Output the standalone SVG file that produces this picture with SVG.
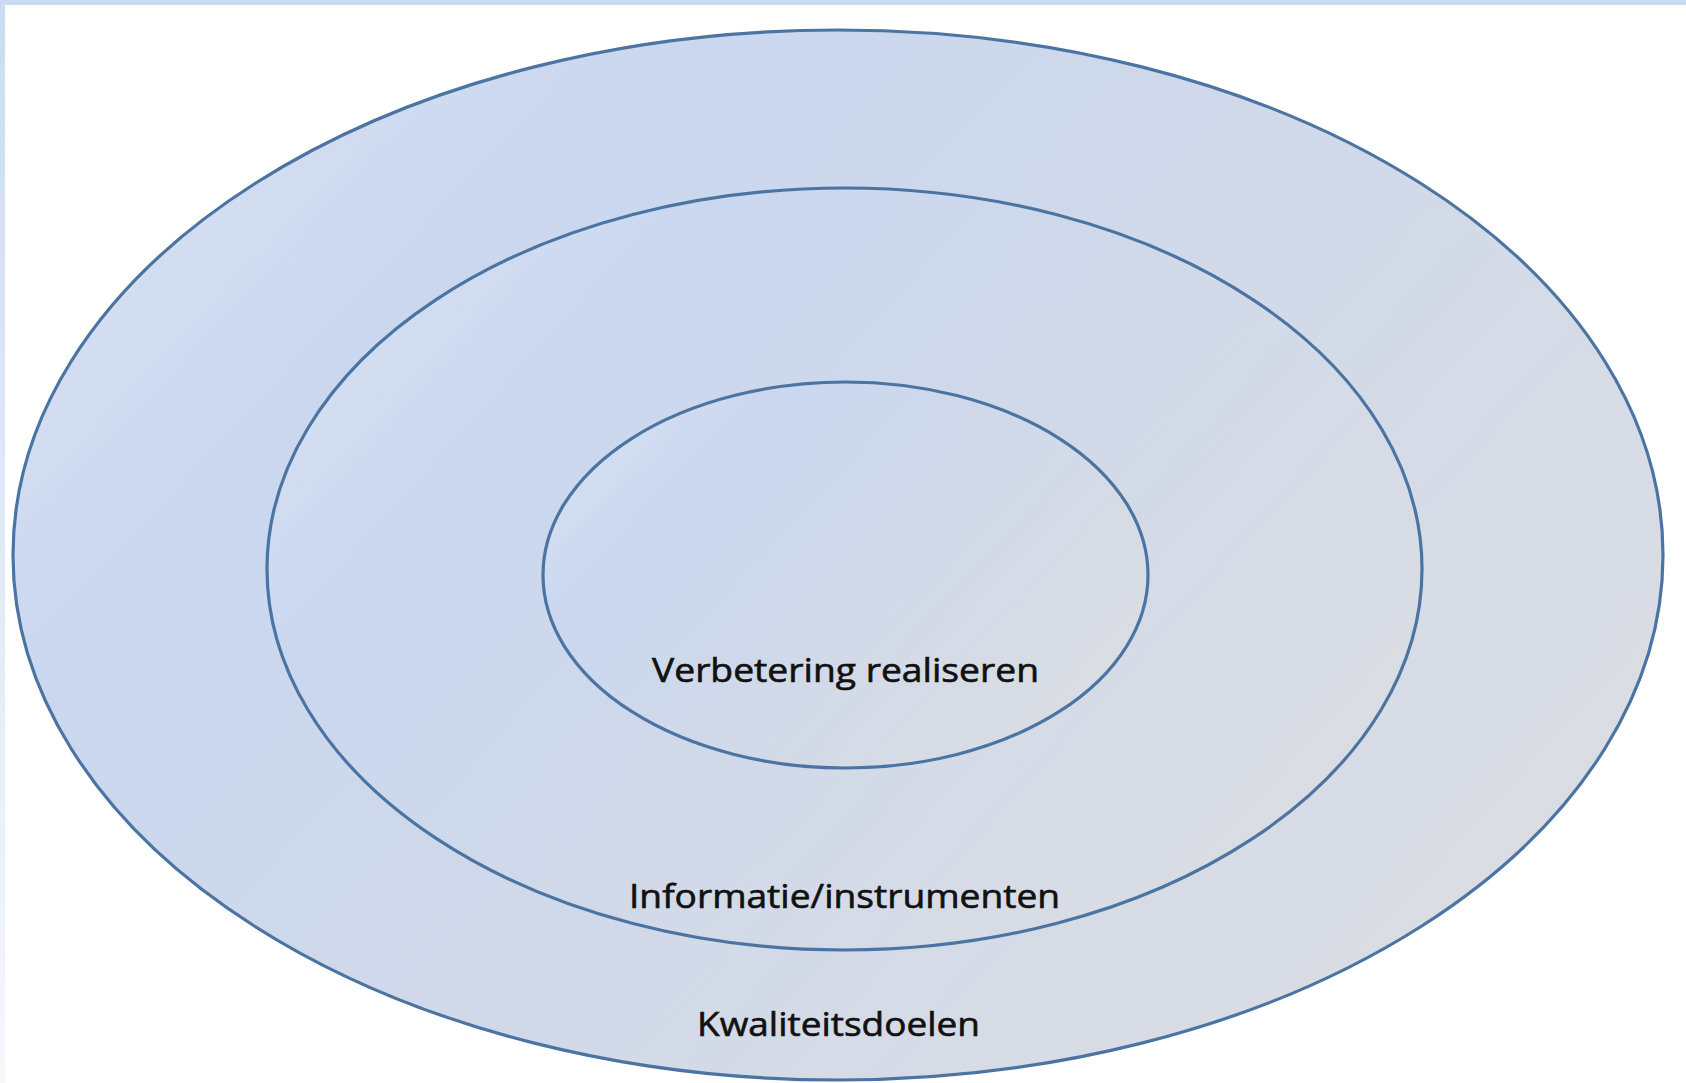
<svg xmlns="http://www.w3.org/2000/svg" width="1686" height="1083" viewBox="0 0 1686 1083">
  <defs>
    <linearGradient id="fillGrad" x1="0" y1="0.2" x2="1" y2="0.8">
      <stop offset="0" stop-color="#d8e1f2"/>
      <stop offset="0.2" stop-color="#cad7ef"/>
      <stop offset="0.5" stop-color="#d0d9ea"/>
      <stop offset="1" stop-color="#dbdde2"/>
    </linearGradient>
    <linearGradient id="leftStrip" x1="0" y1="0" x2="0" y2="1">
      <stop offset="0" stop-color="#ccdcf2"/>
      <stop offset="1" stop-color="#f5f7fb"/>
    </linearGradient>
  </defs>
  <style>
    .ring { fill: url(#fillGrad); stroke: #4b74a2; stroke-width: 3.2; }
    .label { font-family: "Open Sans", "Liberation Sans", sans-serif; font-size: 32px; fill: #111111; stroke: #111111; stroke-width: 0.6px; text-anchor: middle; }
  </style>
  <rect x="0" y="0" width="1686" height="1083" fill="#ffffff"/>
  <rect x="0" y="0" width="1686" height="5" fill="#c9daf1"/>
  <rect x="0" y="0" width="5" height="1083" fill="url(#leftStrip)"/>

  <g id="outer">
    <ellipse cx="838" cy="555" rx="825" ry="525" class="ring"/>
    <text class="label" x="838.5" y="1036" textLength="283" lengthAdjust="spacingAndGlyphs">Kwaliteitsdoelen</text>
  </g>
  <g id="middle">
    <ellipse cx="844.5" cy="569" rx="577.5" ry="381" class="ring"/>
    <text class="label" x="844.5" y="908" textLength="431" lengthAdjust="spacingAndGlyphs">Informatie/instrumenten</text>
  </g>
  <g id="inner">
    <ellipse cx="845.5" cy="575" rx="302.5" ry="193" class="ring"/>
    <text class="label" x="845.5" y="682" textLength="387" lengthAdjust="spacingAndGlyphs">Verbetering realiseren</text>
  </g>
  <g id="connectors"/>
</svg>
